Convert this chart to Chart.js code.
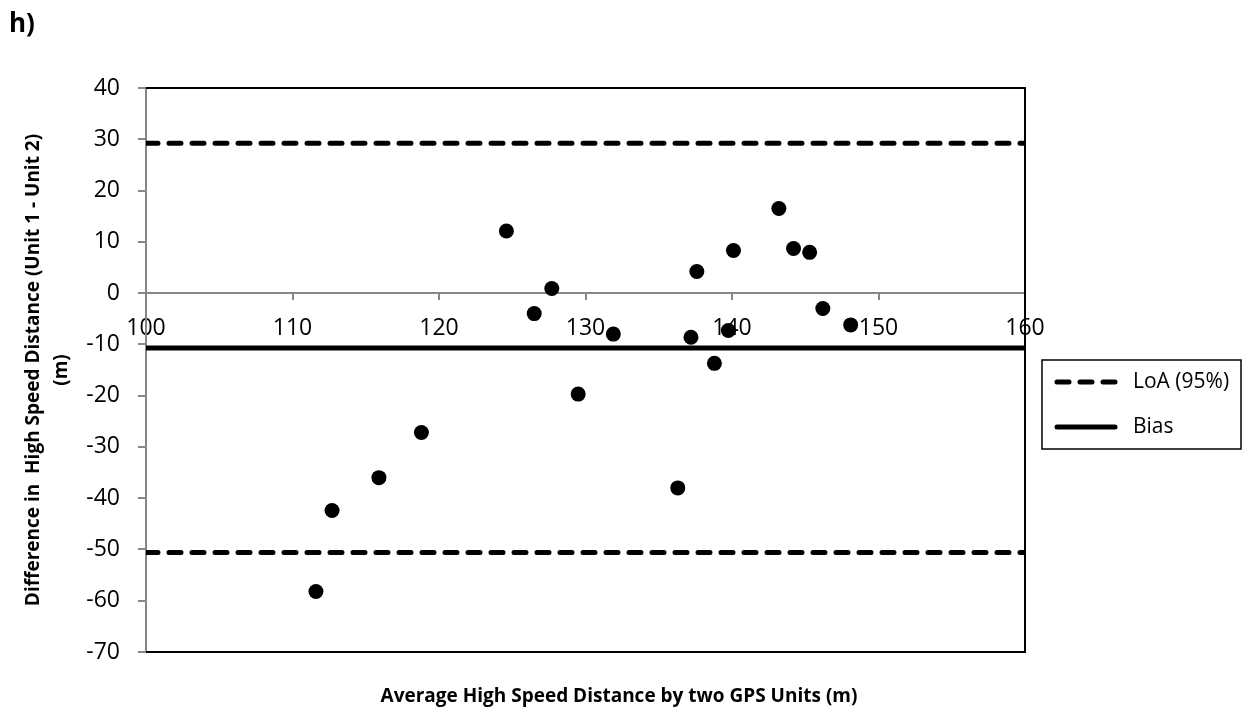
<!DOCTYPE html>
<html>
<head>
<meta charset="utf-8">
<script src="https://cdn.jsdelivr.net/npm/chart.js@4/dist/chart.umd.min.js"></script>
<style>
  html, body { margin: 0; padding: 0; background: #fff; }
  #wrap { width: 1249px; height: 715px; position: relative; }
</style>
</head>
<body>
<div id="wrap"><canvas id="myChart"></canvas></div>
<script>
// average of the two units (x) and difference unit1 - unit2 (y)
const mediaX = [111.6, 112.7, 115.9, 118.8, 124.6, 126.5, 127.7, 129.5, 131.9, 136.3,
                137.2, 137.6, 138.8, 139.75, 140.1, 143.2, 144.2, 145.3, 146.2, 148.1];
const diferencaY = [-58.2, -42.4, -36.0, -27.2, 12.1, -4.0, 0.9, -19.7, -8.0, -38.0,
                    -8.6, 4.2, -13.7, -7.3, 8.3, 16.5, 8.7, 7.95, -3.0, -6.2];
const bias = -10.7;
const loaSuperior = 29.2;
const loaInferior = -50.6;
const limitesX = [100, 160];
const limitesY = [-70, 40];
const legendaNomes = ["LoA (95%)", "Bias"];
const tituloX = "Average High Speed Distance by two GPS Units (m)";
const tituloY = ["Difference in  High Speed Distance (Unit 1 - Unit 2)", "(m)"];

const cinza = "#868686";
const fonte = "'Open Sans', 'DejaVu Sans', sans-serif";

function linhaHorizontal(valor) {
  return limitesX.map((x) => ({ x: x, y: valor }));
}

const pontos = mediaX.map((x, i) => ({ x: x, y: diferencaY[i] }));

// borders, x title, legend and panel letter
const extras = {
  id: "extras",
  afterDraw(chart) {
    const { ctx, chartArea } = chart;
    ctx.save();
    ctx.strokeStyle = "#000";
    ctx.lineWidth = 2;
    ctx.beginPath();
    ctx.moveTo(chartArea.left, chartArea.top);
    ctx.lineTo(chartArea.right, chartArea.top);
    ctx.lineTo(chartArea.right, chartArea.bottom);
    ctx.lineTo(chartArea.left, chartArea.bottom);
    ctx.stroke();

    ctx.fillStyle = "#000";
    ctx.font = "bold 19px " + fonte;
    ctx.textAlign = "center";
    ctx.textBaseline = "middle";
    ctx.fillText(tituloX, 619, 697);

    ctx.font = "bold 26px " + fonte;
    ctx.textAlign = "left";
    ctx.textBaseline = "alphabetic";
    ctx.fillText("h)", 9, 32);

    // legend
    ctx.lineWidth = 1.5;
    ctx.strokeRect(1042, 360, 199, 89);
    const ds = chart.data.datasets;
    const itens = [ds[1], ds[3]];
    itens.forEach((d, i) => {
      const y = 382 + i * 45;
      ctx.beginPath();
      ctx.lineWidth = d.borderWidth;
      ctx.lineCap = "round";
      ctx.setLineDash(d.borderDash || []);
      ctx.moveTo(1057, y);
      ctx.lineTo(1115, y);
      ctx.stroke();
      ctx.setLineDash([]);
      ctx.font = "21px " + fonte;
      ctx.textBaseline = "middle";
      ctx.fillText(d.label, 1133, y);
    });
    ctx.restore();
  },
};

var ctx = document.getElementById("myChart").getContext("2d");
var myChart = new Chart(ctx, {
  type: "scatter",
  data: {
    datasets: [
      {
        label: "Dados",
        data: pontos,
        backgroundColor: "#000",
        borderWidth: 0,
        pointRadius: 7.5,
        pointHoverRadius: 7.5,
      },
      {
        label: legendaNomes[0],
        data: linhaHorizontal(loaSuperior),
        showLine: true,
        borderColor: "#000",
        borderWidth: 5,
        borderDash: [12, 11],
        borderCapStyle: "round",
        pointRadius: 0,
      },
      {
        label: legendaNomes[0] + " inferior",
        data: linhaHorizontal(loaInferior),
        showLine: true,
        borderColor: "#000",
        borderWidth: 5,
        borderDash: [12, 11],
        borderCapStyle: "round",
        pointRadius: 0,
      },
      {
        label: legendaNomes[1],
        data: linhaHorizontal(bias),
        showLine: true,
        borderColor: "#000",
        borderWidth: 5,
        pointRadius: 0,
      },
    ],
  },
  options: {
    responsive: true,
    maintainAspectRatio: false,
    animation: false,
    layout: { padding: { left: 0, top: 88, right: 224, bottom: 63 } },
    plugins: {
      legend: { display: false },
      tooltip: { enabled: false },
    },
    scales: {
      x: {
        type: "linear",
        position: { y: 0 },
        min: limitesX[0],
        max: limitesX[1],
        ticks: {
          stepSize: 10,
          color: "#000",
          padding: 16,
          font: { family: fonte, size: 23 },
        },
        grid: { drawOnChartArea: false, drawTicks: true, tickLength: 6, color: cinza, lineWidth: 2 },
        border: { color: cinza, width: 2 },
      },
      y: {
        min: limitesY[0],
        max: limitesY[1],
        afterFit: (s) => { s.width = 146; },
        ticks: {
          stepSize: 10,
          color: "#000",
          padding: 18,
          font: { family: fonte, size: 23 },
        },
        grid: { drawOnChartArea: false, drawTicks: true, tickLength: 8, color: cinza, lineWidth: 2 },
        border: { color: cinza, width: 2 },
        title: {
          display: true,
          text: tituloY,
          color: "#000",
          padding: { top: 20, bottom: 0 },
          font: { family: fonte, size: 19, weight: "bold", lineHeight: 1.45 },
        },
      },
    },
  },
  plugins: [extras],
});
</script>
</body>
</html>
